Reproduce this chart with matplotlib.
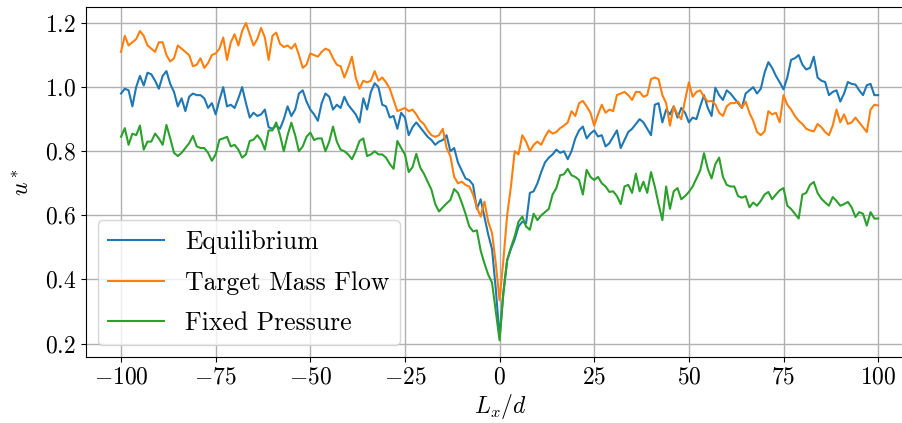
import numpy as np
import matplotlib
matplotlib.use("Agg")
import matplotlib.pyplot as plt

plt.rcParams["font.family"] = "serif"
plt.rcParams["font.serif"] = ["cmr10", "DejaVu Serif"]
plt.rcParams["mathtext.fontset"] = "cm"
plt.rcParams["axes.formatter.use_mathtext"] = True
plt.rcParams["font.size"] = 17

x = np.arange(-100, 101)

equilibrium = [
    0.98, 0.995, 0.99, 0.94, 1.0, 1.035, 1.005, 1.045, 1.04, 1.02,
    0.995, 1.035, 1.05, 1.01, 0.985, 0.94, 0.965, 0.925, 0.97, 0.98,
    0.975, 0.975, 0.965, 0.935, 0.95, 0.915, 0.96, 1.0, 0.94, 0.945,
    0.935, 0.965, 1.0, 0.95, 0.905, 0.92, 0.91, 0.915, 0.93, 0.875,
    0.87, 0.88, 0.87, 0.9, 0.94, 0.91, 0.93, 0.98, 0.99, 0.955,
    0.93, 0.915, 0.895, 0.95, 0.98, 0.97, 0.93, 0.945, 0.935, 0.97,
    0.945, 0.93, 0.915, 0.89, 0.965, 0.93, 0.985, 1.012, 1.0, 0.945,
    0.94, 0.905, 0.91, 0.87, 0.92, 0.905, 0.85, 0.875, 0.89, 0.875,
    0.86, 0.845, 0.835, 0.82, 0.83, 0.835, 0.85, 0.80, 0.81, 0.765,
    0.74, 0.715, 0.71, 0.695, 0.62, 0.65, 0.595, 0.54, 0.495, 0.37,
    0.22,
    0.36, 0.46, 0.495, 0.525, 0.565, 0.58, 0.575, 0.67, 0.675, 0.70,
    0.735, 0.765, 0.78, 0.79, 0.805, 0.795, 0.80, 0.775, 0.80, 0.84,
    0.865, 0.877, 0.84, 0.855, 0.865, 0.846, 0.85, 0.815, 0.825, 0.845,
    0.865, 0.81, 0.835, 0.86, 0.87, 0.885, 0.9, 0.89, 0.87, 0.85,
    0.945, 0.95, 0.89, 0.93, 0.915, 0.94, 0.905, 0.935, 0.92, 0.89,
    0.905, 0.9, 0.94, 0.975, 0.935, 0.91, 0.998, 0.975, 0.96, 0.99,
    0.98, 0.965, 0.95, 0.935, 0.98, 0.99, 1.0, 0.98, 0.995, 1.045,
    1.078, 1.06, 1.035, 1.015, 0.993, 1.03, 1.085, 1.09, 1.1, 1.07,
    1.055, 1.06, 1.095, 1.03, 1.02, 1.016, 0.975, 0.985, 0.99, 0.955,
    0.98, 1.016, 1.01, 1.008, 0.99, 0.975, 1.006, 1.01, 0.975, 0.975,
]

target_mass_flow = [
    1.11, 1.16, 1.13, 1.14, 1.15, 1.175, 1.16, 1.13, 1.12, 1.11,
    1.14, 1.14, 1.10, 1.08, 1.09, 1.13, 1.12, 1.11, 1.10, 1.065,
    1.07, 1.09, 1.06, 1.075, 1.10, 1.105, 1.12, 1.155, 1.085, 1.14,
    1.165, 1.13, 1.175, 1.2, 1.165, 1.13, 1.15, 1.185, 1.155, 1.085,
    1.16, 1.17, 1.135, 1.125, 1.13, 1.12, 1.135, 1.10, 1.06, 1.07,
    1.105, 1.10, 1.095, 1.11, 1.12, 1.115, 1.09, 1.07, 1.065, 1.03,
    1.06, 1.095, 1.03, 0.995, 1.02, 1.015, 1.02, 1.05, 1.02, 1.03,
    1.015, 0.995, 0.96, 0.925, 0.93, 0.935, 0.925, 0.93, 0.915, 0.895,
    0.885, 0.865, 0.85, 0.845, 0.85, 0.87, 0.81, 0.785, 0.72, 0.70,
    0.705, 0.695, 0.69, 0.665, 0.625, 0.596, 0.643, 0.58, 0.545, 0.45,
    0.335,
    0.46, 0.60, 0.69, 0.80, 0.79, 0.85, 0.83, 0.80, 0.82, 0.83,
    0.82, 0.845, 0.865, 0.855, 0.86, 0.872, 0.88, 0.89, 0.925, 0.91,
    0.95, 0.957, 0.94, 0.92, 0.88, 0.915, 0.945, 0.92, 0.93, 0.925,
    0.975, 0.98, 0.985, 0.975, 0.96, 0.985, 0.985, 0.97, 0.975, 1.025,
    1.03, 1.025, 0.975, 0.95, 0.88, 0.94, 0.915, 0.90, 0.96, 1.015,
    0.97, 0.985, 0.99, 0.97, 0.955, 0.957, 0.946, 0.92, 0.91, 0.94,
    0.95, 0.95, 0.955, 0.935, 0.955, 0.92, 0.895, 0.86, 0.85, 0.862,
    0.925, 0.915, 0.92, 0.89, 0.975, 0.945, 0.93, 0.91, 0.895, 0.885,
    0.87, 0.865, 0.862, 0.885, 0.875, 0.86, 0.85, 0.88, 0.93, 0.89,
    0.915, 0.885, 0.89, 0.905, 0.89, 0.875, 0.86, 0.93, 0.945, 0.943,
]

fixed_pressure = [
    0.845, 0.872, 0.82, 0.855, 0.85, 0.88, 0.805, 0.83, 0.83, 0.855,
    0.84, 0.82, 0.882, 0.84, 0.795, 0.785, 0.795, 0.81, 0.825, 0.848,
    0.815, 0.81, 0.81, 0.795, 0.77, 0.79, 0.836, 0.84, 0.845, 0.815,
    0.82, 0.805, 0.78, 0.79, 0.832, 0.836, 0.85, 0.835, 0.805, 0.865,
    0.865, 0.89, 0.85, 0.8, 0.85, 0.889, 0.85, 0.8, 0.815, 0.845,
    0.858, 0.835, 0.84, 0.84, 0.80, 0.83, 0.877, 0.83, 0.805, 0.80,
    0.79, 0.775, 0.80, 0.832, 0.84, 0.785, 0.79, 0.80, 0.79, 0.79,
    0.78, 0.76, 0.745, 0.832, 0.81, 0.79, 0.735, 0.75, 0.792, 0.75,
    0.73, 0.705, 0.68, 0.635, 0.612, 0.625, 0.637, 0.648, 0.682, 0.67,
    0.64, 0.605, 0.565, 0.55, 0.553, 0.49, 0.45, 0.415, 0.39, 0.30,
    0.21,
    0.356, 0.46, 0.50, 0.535, 0.58, 0.596, 0.565, 0.555, 0.605, 0.585,
    0.60, 0.61, 0.62, 0.665, 0.685, 0.725, 0.728, 0.745, 0.725, 0.72,
    0.71, 0.665, 0.742, 0.72, 0.71, 0.72, 0.70, 0.69, 0.673, 0.675,
    0.66, 0.635, 0.69, 0.695, 0.67, 0.73, 0.675, 0.705, 0.67, 0.735,
    0.69, 0.635, 0.585, 0.69, 0.62, 0.675, 0.685, 0.65, 0.66, 0.673,
    0.69, 0.715, 0.74, 0.794, 0.745, 0.715, 0.76, 0.78, 0.72, 0.695,
    0.69, 0.69, 0.66, 0.655, 0.66, 0.625, 0.64, 0.63, 0.645, 0.665,
    0.673, 0.65, 0.665, 0.678, 0.685, 0.63, 0.62, 0.605, 0.59, 0.665,
    0.67, 0.695, 0.704, 0.67, 0.652, 0.64, 0.63, 0.657, 0.645, 0.63,
    0.635, 0.642, 0.625, 0.595, 0.61, 0.605, 0.568, 0.61, 0.59, 0.59,
]

fig = plt.figure(figsize=(9.02, 4.23), dpi=100)
ax = fig.add_axes([86 / 902, 66 / 423, 830 / 902, 350 / 423])

ax.plot(x, equilibrium, color="tab:blue", lw=1.5, label="Equilibrium")
ax.plot(x, target_mass_flow, color="tab:orange", lw=1.5, label="Target Mass Flow")
ax.plot(x, fixed_pressure, color="tab:green", lw=1.5, label="Fixed Pressure")

ax.set_xlim(-109.25, 110)
ax.set_ylim(0.158, 1.25)
ax.set_xticks([-100, -75, -50, -25, 0, 25, 50, 75, 100])
ax.set_yticks([0.2, 0.4, 0.6, 0.8, 1.0, 1.2])
ax.grid(True, color="#b0b0b0", lw=1.0)
ax.set_xlabel("$L_x/d$", labelpad=2)
ax.set_ylabel("$u^*$", labelpad=8)
ax.legend(loc="lower left", fontsize=18.5, labelspacing=0.65,
          handlelength=2.2, handletextpad=0.8, borderaxespad=0.45)

fig.savefig("out.png", dpi=100)
